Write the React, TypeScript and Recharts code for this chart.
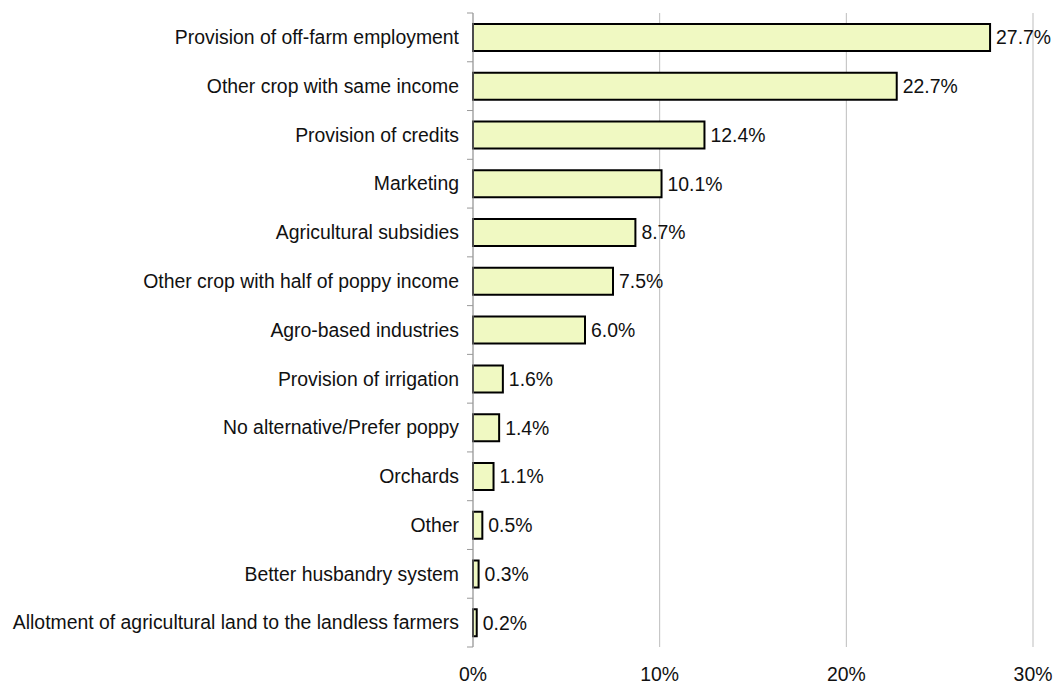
import React from "react";
import { BarChart, Bar, XAxis, YAxis, CartesianGrid, LabelList } from "recharts";

const categories = [
  "Provision of off-farm employment",
  "Other crop with same income",
  "Provision of credits",
  "Marketing",
  "Agricultural subsidies",
  "Other crop with half of poppy income",
  "Agro-based industries",
  "Provision of irrigation",
  "No alternative/Prefer poppy",
  "Orchards",
  "Other",
  "Better husbandry system",
  "Allotment of agricultural land to the landless farmers",
];

const values = [27.7, 22.7, 12.4, 10.1, 8.7, 7.5, 6.0, 1.6, 1.4, 1.1, 0.5, 0.3, 0.2];

const xTicks = [0, 10, 20, 30];

const data = categories.map((name, i) => ({ name, value: values[i] }));

const FONT = "'Liberation Sans', Arial, sans-serif";
const FS = 19.4;
const W = 1056;
const H = 684;
const M = { top: 13, right: 23, bottom: 7, left: 0 };
const X_AXIS_H = 30;
const Y_AXIS_W = 473;
const TICK_MARGIN = 14;

const YTick = (props: any) => {
  const { x, y, payload, index } = props;
  const plotH = H - M.top - M.bottom - X_AXIS_H;
  const half = payload && typeof payload.offset === "number" && payload.offset > 0
    ? payload.offset
    : plotH / categories.length / 2;
  const ax = x + TICK_MARGIN;
  return (
    <g>
      <line x1={ax - 6} x2={ax} y1={y - half} y2={y - half} stroke="#999" strokeWidth={1} />
      {index === categories.length - 1 && (
        <line x1={ax - 6} x2={ax} y1={y + half} y2={y + half} stroke="#999" strokeWidth={1} />
      )}
      <text x={x} y={y} dy="0.35em" textAnchor="end" fontSize={FS} fontFamily={FONT} fill="#111">
        {payload.value}
      </text>
    </g>
  );
};

export default function App() {
  return (
    <div style={{ position: "absolute", left: 0, top: 0, width: W, height: H, background: "#fff" }}>
      <BarChart width={W} height={H} data={data} layout="vertical" margin={M}>
        <CartesianGrid horizontal={false} vertical={true} stroke="#bdbdbd" strokeWidth={1} />
        <XAxis
          type="number"
          domain={[0, 30]}
          ticks={xTicks}
          tickFormatter={(v: number) => `${v}%`}
          axisLine={false}
          tickLine={false}
          tickSize={0}
          tickMargin={20}
          height={X_AXIS_H}
          tick={{ fontSize: FS, fontFamily: FONT, fill: "#111" }}
          interval={0}
        />
        <YAxis
          type="category"
          dataKey="name"
          width={Y_AXIS_W}
          axisLine={{ stroke: "#999", strokeWidth: 1 }}
          tickLine={false}
          tickSize={0}
          tickMargin={TICK_MARGIN}
          tick={<YTick />}
          interval={0}
        />
        <Bar dataKey="value" fill="#f0f9c2" stroke="#000" strokeWidth={2} barSize={27} isAnimationActive={false}>
          <LabelList
            dataKey="value"
            position="right"
            offset={6}
            formatter={(v: any) => `${Number(v).toFixed(1)}%`}
            style={{ fontSize: FS, fontFamily: FONT, fill: "#111" }}
          />
        </Bar>
      </BarChart>
    </div>
  );
}
